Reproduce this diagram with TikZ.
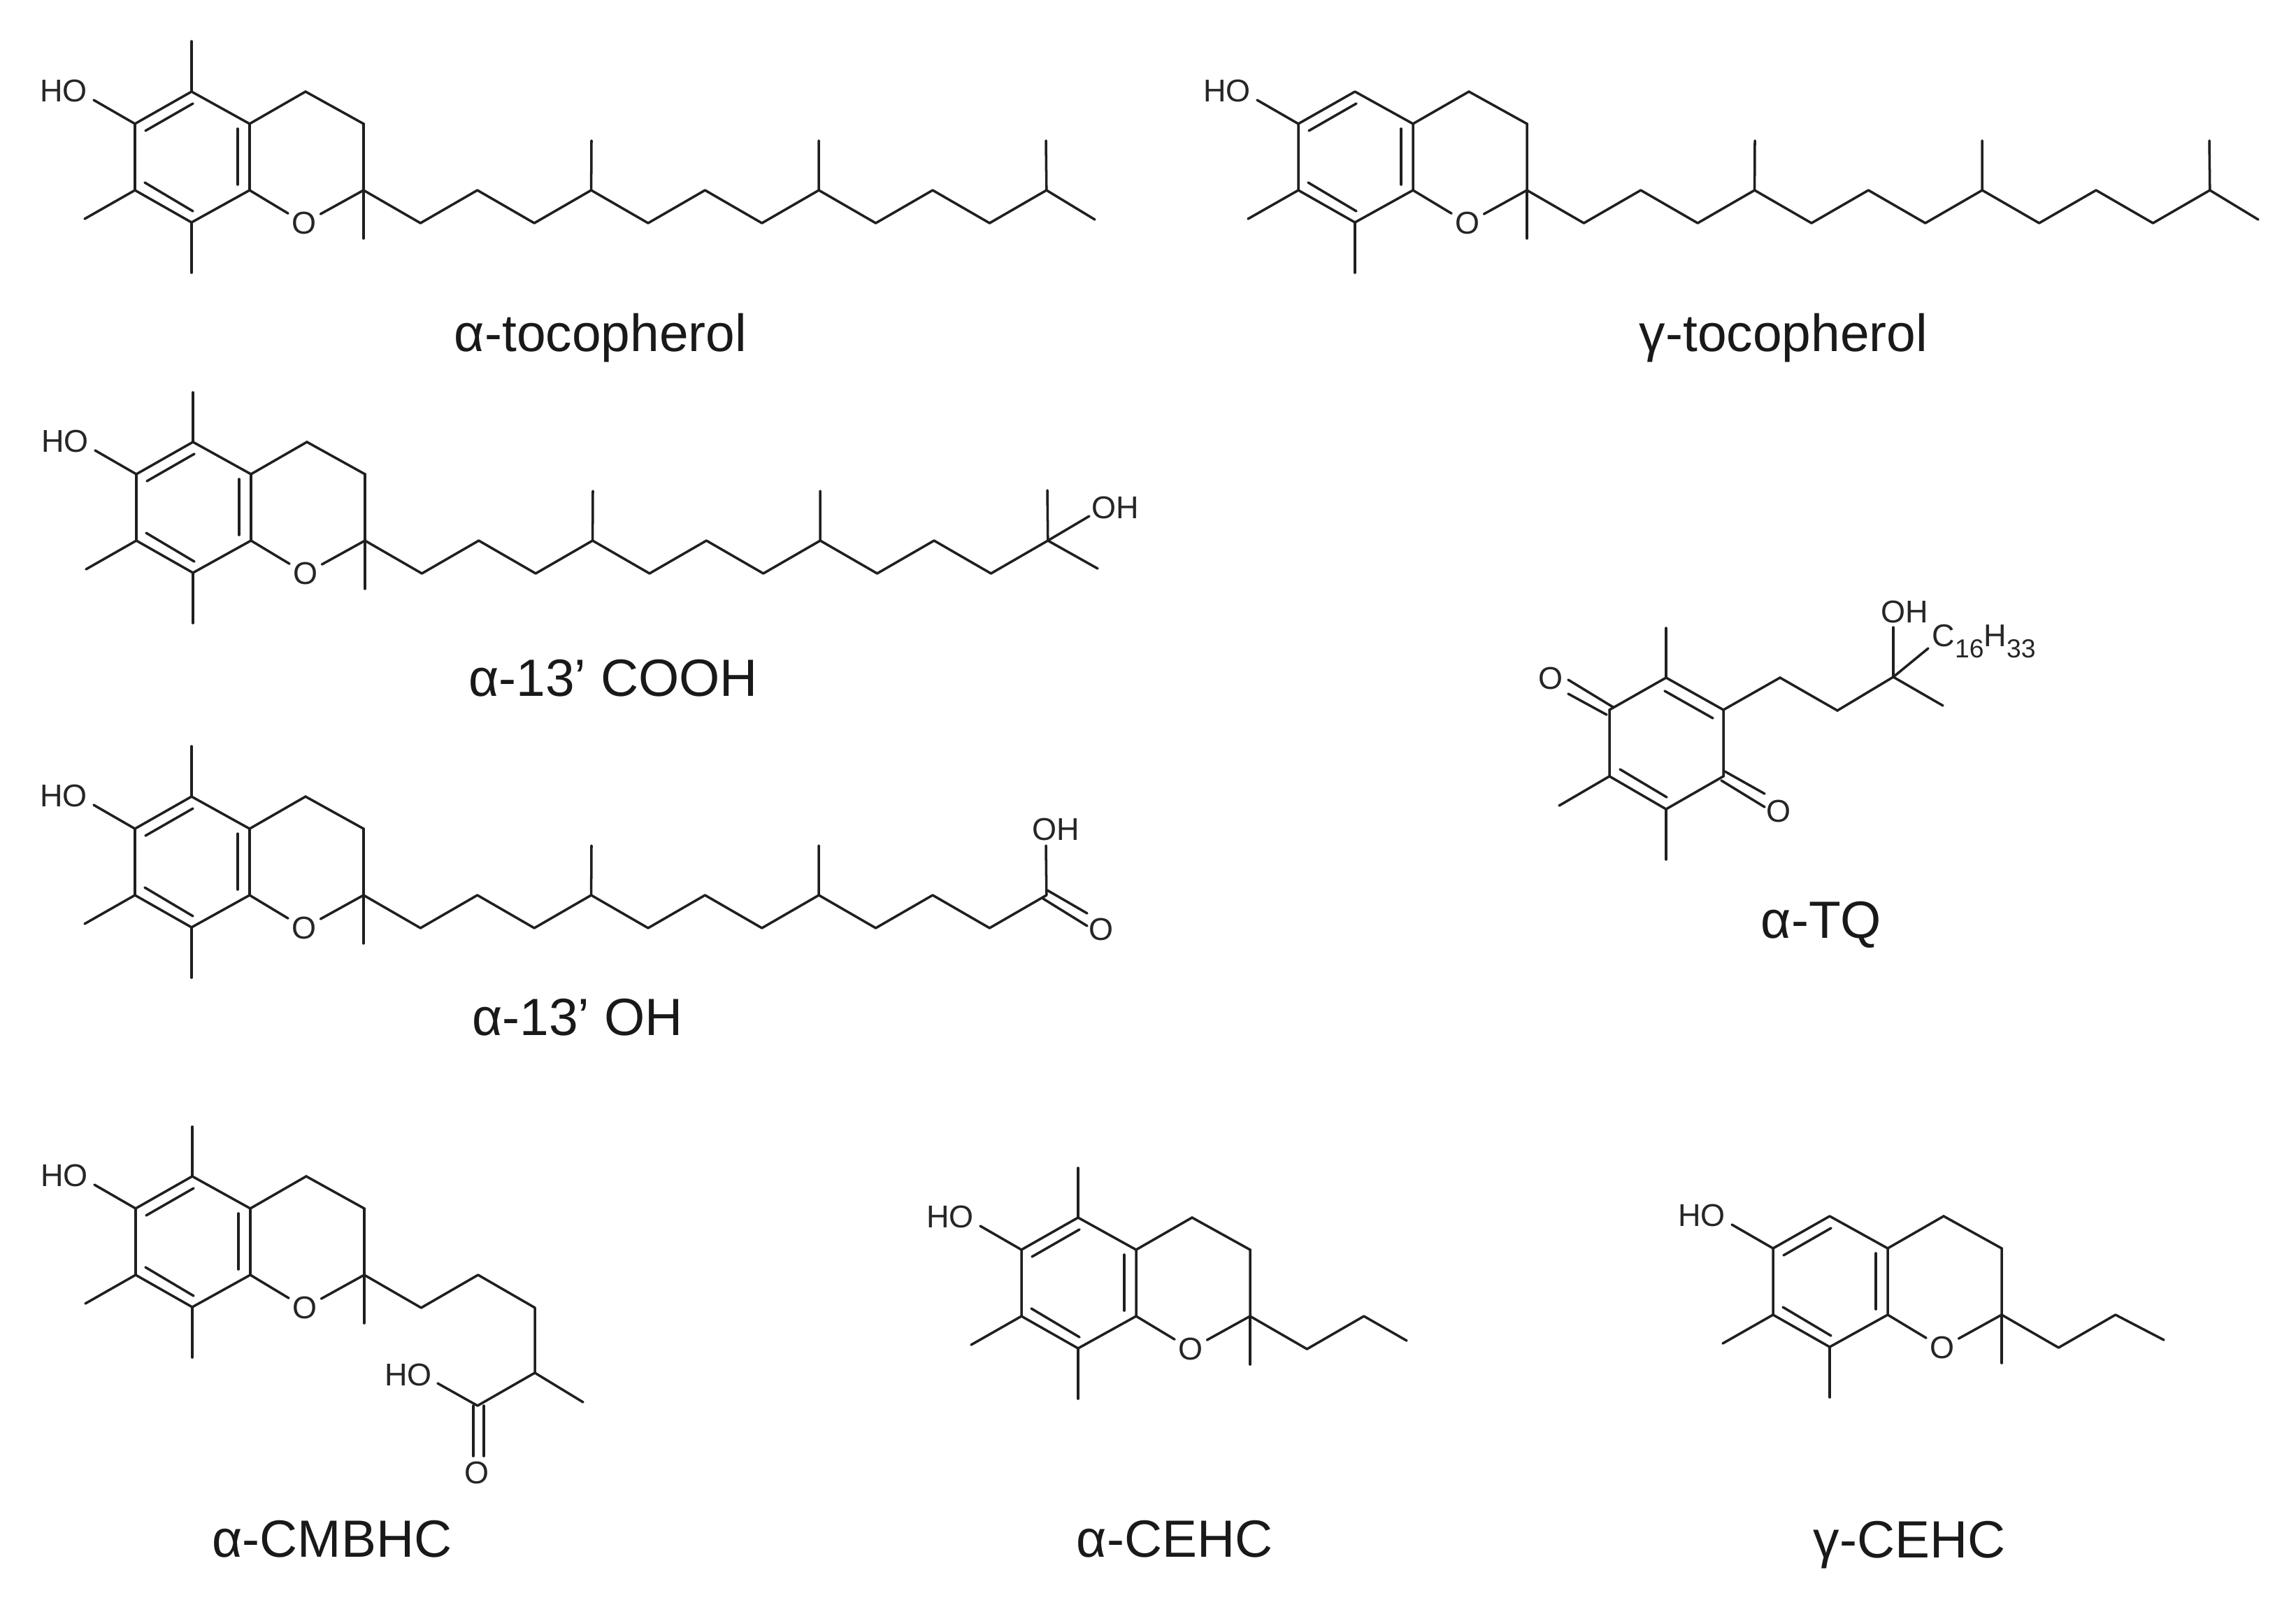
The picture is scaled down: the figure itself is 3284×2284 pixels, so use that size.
\documentclass[tikz,border=0pt]{standalone}
\usepackage{fontspec}
\setmainfont{Liberation Sans}
\tikzset{
  bond/.style={line width=1pt, line cap=round, color=black!88},
  group/.style={inner sep=0pt, font=\fontsize{12.8}{14}\selectfont, text=black!85},
  oxygen/.style={group, circle, minimum size=.52cm},
  caption/.style={inner sep=0pt, font=\fontsize{21.3}{24}\selectfont, text=black!90}
}
% bicyclic core, origin at the ring carbon next to the hydroxyl-bearing one
\newcommand{\chroman}[1]{
  \coordinate (#1top) at (0,0);
  \coordinate (#1ul) at (-81,46);
  \coordinate (#1ll) at (-81,141);
  \coordinate (#1bot) at (0,187);
  \coordinate (#1lr) at (83,141);
  \coordinate (#1ur) at (83,46);
  \coordinate (#1c4) at (163,0);
  \coordinate (#1c3) at (246,46);
  \coordinate (#1c0) at (246,141);
  \coordinate (#1hoe) at (-140,12);
  \coordinate (#1m7) at (-153,182);
  \coordinate (#1m8) at (0,259);
  \coordinate (#1m2) at (246,210);
  \coordinate (#1d1a) at (-66,56);
  \coordinate (#1d1b) at (2,17);
  \coordinate (#1d2a) at (-67,130);
  \coordinate (#1d2b) at (2,171);
  \coordinate (#1d3a) at (66,53);
  \coordinate (#1d3b) at (66,133);
  \node [oxygen] (#1o) at (161,188) {O};
  \node [group] (#1ho) at (-183,-1) {HO};
  \draw [bond] (#1top) -- (#1ul) -- (#1ll) -- (#1bot) -- (#1lr) -- (#1ur) -- (#1top);
  \draw [bond] (#1ur) -- (#1c4) -- (#1c3) -- (#1c0);
  \draw [bond] (#1lr) -- (#1o) -- (#1c0);
  \draw [bond] (#1d1a) -- (#1d1b);
  \draw [bond] (#1d2a) -- (#1d2b);
  \draw [bond] (#1d3a) -- (#1d3b);
  \draw [bond] (#1ul) -- (#1hoe);
  \draw [bond] (#1ll) -- (#1m7);
  \draw [bond] (#1bot) -- (#1m8);
  \draw [bond] (#1c0) -- (#1m2);
}
% zigzag side chain starting from c0
\newcommand{\tail}[2]{
  \foreach \i [remember=\i as \j (initially 0)] in {1,...,#2}{
    \pgfmathsetmacro{\cx}{246+81.4*\i}
    \pgfmathsetmacro{\cy}{141+47*mod(\i,2)}
    \coordinate (#1c\i) at (\cx,\cy);
    \draw [bond] (#1c\j) -- (#1c\i);
  }
}
\newcommand{\branch}[3]{
  \coordinate (#2) at (#3);
  \draw [bond] (#1) -- (#2);
}
\newcommand{\lowsub}[1]{\raisebox{-4.3pt}{\fontsize{10.6}{11}\selectfont #1}}

\begin{document}
\begin{tikzpicture}[x=.01cm, y=-.01cm]
  \useasboundingbox (0,0) rectangle (3284,2284);

  % alpha-tocopherol
  \begin{scope}[shift={(274,131)}]
    \chroman{a}
    \tail{a}{12}
    \branch{atop}{am5}{0,-72}
    \branch{ac4}{am4}{572,70}
    \branch{ac8}{am8}{897,70}
    \branch{ac12}{am12}{1222,70}
    \branch{ac12}{aend}{1292,183}
  \end{scope}
  \node [caption] (lbla) at (859,483) {α-tocopherol};

  % gamma-tocopherol
  \begin{scope}[shift={(1938,131)}]
    \chroman{g}
    \tail{g}{12}
    \branch{gc4}{gm4}{572,70}
    \branch{gc8}{gm8}{897,70}
    \branch{gc12}{gm12}{1222,70}
    \branch{gc12}{gend}{1292,183}
  \end{scope}
  \node [caption] (lblg) at (2551,483) {γ-tocopherol};

  % terminal alcohol
  \begin{scope}[shift={(276,632)}]
    \chroman{b}
    \tail{b}{12}
    \branch{btop}{bm5}{0,-71}
    \branch{bc4}{bm4}{572,70}
    \branch{bc8}{bm8}{897,70}
    \branch{bc12}{bm12}{1222,69}
    \branch{bc12}{bend}{1294,181}
    \branch{bc12}{bohe}{1282,106}
    \node [group] (boh) at (1319,94) {OH};
  \end{scope}
  \node [caption] (lblb) at (877,970) {α-13’ COOH};

  % terminal acid
  \begin{scope}[shift={(274,1139)}]
    \chroman{c}
    \tail{c}{12}
    \branch{ctop}{cm5}{0,-72}
    \branch{cc4}{cm4}{572,70}
    \branch{cc8}{cm8}{897,70}
    \branch{cc12}{cohe}{1222,70}
    \coordinate (cd1a) at (1218,146);
    \coordinate (cd1b) at (1281,185);
    \coordinate (cd2a) at (1224,134);
    \coordinate (cd2b) at (1281,167);
    \draw [bond] (cd1a) -- (cd1b);
    \draw [bond] (cd2a) -- (cd2b);
    \node [group] (coh) at (1236,47) {OH};
    \node [group] (co) at (1301,190) {O};
  \end{scope}
  \node [caption] (lblc) at (826,1455) {α-13’ OH};

  % quinone
  \coordinate (qt) at (2383,969);
  \coordinate (qur) at (2465,1015);
  \coordinate (qlr) at (2465,1110);
  \coordinate (qb) at (2383,1157);
  \coordinate (qll) at (2302,1110);
  \coordinate (qul) at (2302,1015);
  \draw [bond] (qt) -- (qur) -- (qlr) -- (qb) -- (qll) -- (qul) -- (qt);
  \branch{qt}{qmt}{2383,898}
  \branch{qll}{qml}{2230,1152}
  \branch{qb}{qmb}{2383,1229}
  \coordinate (qin1) at (2381,988);
  \coordinate (qin2) at (2450,1027);
  \coordinate (qin3) at (2317,1100);
  \coordinate (qin4) at (2384,1140);
  \draw [bond] (qin1) -- (qin2);
  \draw [bond] (qin3) -- (qin4);
  \coordinate (qo1a) at (2307,1011);
  \coordinate (qo1b) at (2243,972);
  \coordinate (qo2a) at (2298,1022);
  \coordinate (qo2b) at (2243,992);
  \draw [bond] (qo1a) -- (qo1b);
  \draw [bond] (qo2a) -- (qo2b);
  \coordinate (qo3a) at (2467,1103);
  \coordinate (qo3b) at (2524,1135);
  \coordinate (qo4a) at (2462,1116);
  \coordinate (qo4b) at (2524,1154);
  \draw [bond] (qo3a) -- (qo3b);
  \draw [bond] (qo4a) -- (qo4b);
  \node [group] (qo1) at (2218,970) {O};
  \node [group] (qo2) at (2544,1160) {O};
  \coordinate (qs1) at (2546,969);
  \coordinate (qs2) at (2628,1016);
  \coordinate (qs3) at (2708,968);
  \draw [bond] (qur) -- (qs1) -- (qs2) -- (qs3);
  \branch{qs3}{qme}{2779,1009}
  \branch{qs3}{qohe}{2708,897}
  \branch{qs3}{qre}{2758,927}
  \node [group] (qoh) at (2724,875) {OH};
  \node [group, anchor=west] (qr) at (2763,917) {C\lowsub{16}H\lowsub{33}};
  \node [caption] (lblq) at (2605,1322) {α-TQ};

  % short acid
  \begin{scope}[shift={(275,1682)}]
    \chroman{d}
    \tail{d}{3}
    \branch{dtop}{dm5}{0,-71}
    \branch{dc3}{dc4}{490,281}
    \branch{dc4}{dm}{559,323}
    \branch{dc4}{dcc}{408,328}
    \branch{dcc}{dohe}{351,296}
    \coordinate (dd1a) at (402,328);
    \coordinate (dd1b) at (402,400);
    \coordinate (dd2a) at (417,328);
    \coordinate (dd2b) at (417,400);
    \draw [bond] (dd1a) -- (dd1b);
    \draw [bond] (dd2a) -- (dd2b);
    \node [group] (doh) at (309,284) {HO};
    \node [group] (do) at (407,424) {O};
  \end{scope}
  \node [caption] (lbld) at (475,2201) {α-CMBHC};

  % alpha-CEHC
  \begin{scope}[shift={(1542,1741)}]
    \chroman{e}
    \tail{e}{2}
    \branch{etop}{em5}{0,-71}
    \branch{ec2}{eend}{470,176}
  \end{scope}
  \node [caption] (lble) at (1680,2201) {α-CEHC};

  % gamma-CEHC
  \begin{scope}[shift={(2617,1739)}]
    \chroman{f}
    \tail{f}{2}
    \branch{fc2}{fend}{478,177}
  \end{scope}
  \node [caption] (lblf) at (2731,2209) {γ-CEHC};
\end{tikzpicture}
\end{document}
